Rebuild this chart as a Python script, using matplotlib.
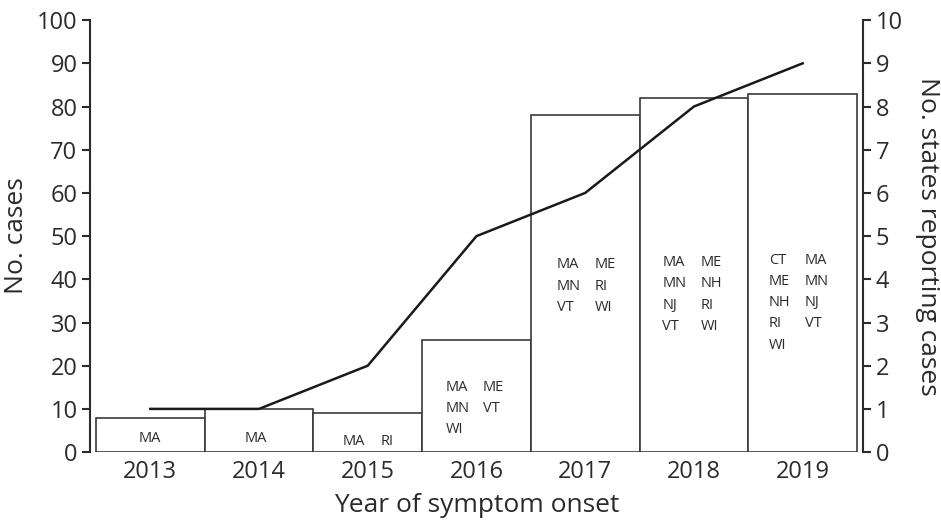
import numpy as np
import matplotlib
matplotlib.use("Agg")
import matplotlib.pyplot as plt

years = ["2013", "2014", "2015", "2016", "2017", "2018", "2019"]
cases = [8, 10, 9, 26, 78, 82, 83]
n_states = [1, 1, 2, 5, 6, 8, 9]

# state abbreviations shown inside each bar, as (left column, right column)
states_left = [["MA"], ["MA"], ["MA"], ["MA", "MN", "WI"], ["MA", "MN", "VT"],
               ["MA", "MN", "NJ", "VT"], ["CT", "ME", "NH", "RI", "WI"]]
states_right = [[], [], ["RI"], ["ME", "VT"], ["ME", "RI", "WI"],
                ["ME", "NH", "RI", "WI"], ["MA", "MN", "NJ", "VT"]]

# layout of the state text blocks (left-axis units / bar-width units)
label_top = [3.2, 3.2, 2.3, 15.0, 43.3, 43.8, 44.4]
left_off = [0.0, -0.03, -0.23, -0.28, -0.26, -0.29, -0.31]
right_off = [None, None, 0.12, 0.06, 0.09, 0.06, 0.02]

plt.rcParams["font.family"] = ["Open Sans", "DejaVu Sans"]
ink = "#2b2b2b"

fig = plt.figure(figsize=(9.41, 5.30), dpi=100)
ax = fig.add_axes([0.0956, 0.147, 0.8215, 0.815])
x = np.arange(len(years))
ax.bar(x, cases, width=1.0, color="white", edgecolor="#3a3a3a", linewidth=1.2)
ax.set_xlim(-0.555, 6.555)
ax.set_ylim(0, 100)
ax.set_yticks(np.arange(0, 101, 10))
ax.set_xticks(x)
ax.set_xticklabels(years)
ax.tick_params(axis="x", length=0, labelsize=17, colors=ink, pad=6)
ax.tick_params(axis="y", length=6, width=1.5, labelsize=17, colors=ink, pad=3)
for s in ["top", "right", "bottom"]:
    ax.spines[s].set_visible(False)
ax.spines["left"].set_linewidth(1.5)
ax.spines["left"].set_color(ink)
ax.set_ylabel("No. cases", fontsize=19, color=ink, labelpad=6)
ax.set_xlabel("Year of symptom onset", fontsize=19, color=ink, labelpad=6)

fs = 10.5
for i in range(len(years)):
    if not states_right[i]:
        ax.text(x[i] + left_off[i], label_top[i], states_left[i][0], ha="center",
                va="center", fontsize=fs, color=ink)
        continue
    ax.text(x[i] + left_off[i], label_top[i] + 1.8, "\n".join(states_left[i]),
            ha="left", va="top", fontsize=fs, color=ink, linespacing=1.57)
    ax.text(x[i] + right_off[i], label_top[i] + 1.8, "\n".join(states_right[i]),
            ha="left", va="top", fontsize=fs, color=ink, linespacing=1.57)

ax2 = ax.twinx()
ax2.plot(x, n_states, color="#1a1a1a", linewidth=1.8)
ax2.set_ylim(0, 10)
ax2.set_yticks(np.arange(0, 11, 1))
ax2.tick_params(axis="y", length=6, width=1.5, labelsize=17, colors=ink, pad=3)
for s in ["top", "left", "bottom"]:
    ax2.spines[s].set_visible(False)
ax2.spines["right"].set_linewidth(1.5)
ax2.spines["right"].set_color(ink)
ax2.set_ylabel("No. states reporting cases", fontsize=19, color=ink,
               rotation=270, labelpad=27)

fig.savefig("out.png", dpi=100)
